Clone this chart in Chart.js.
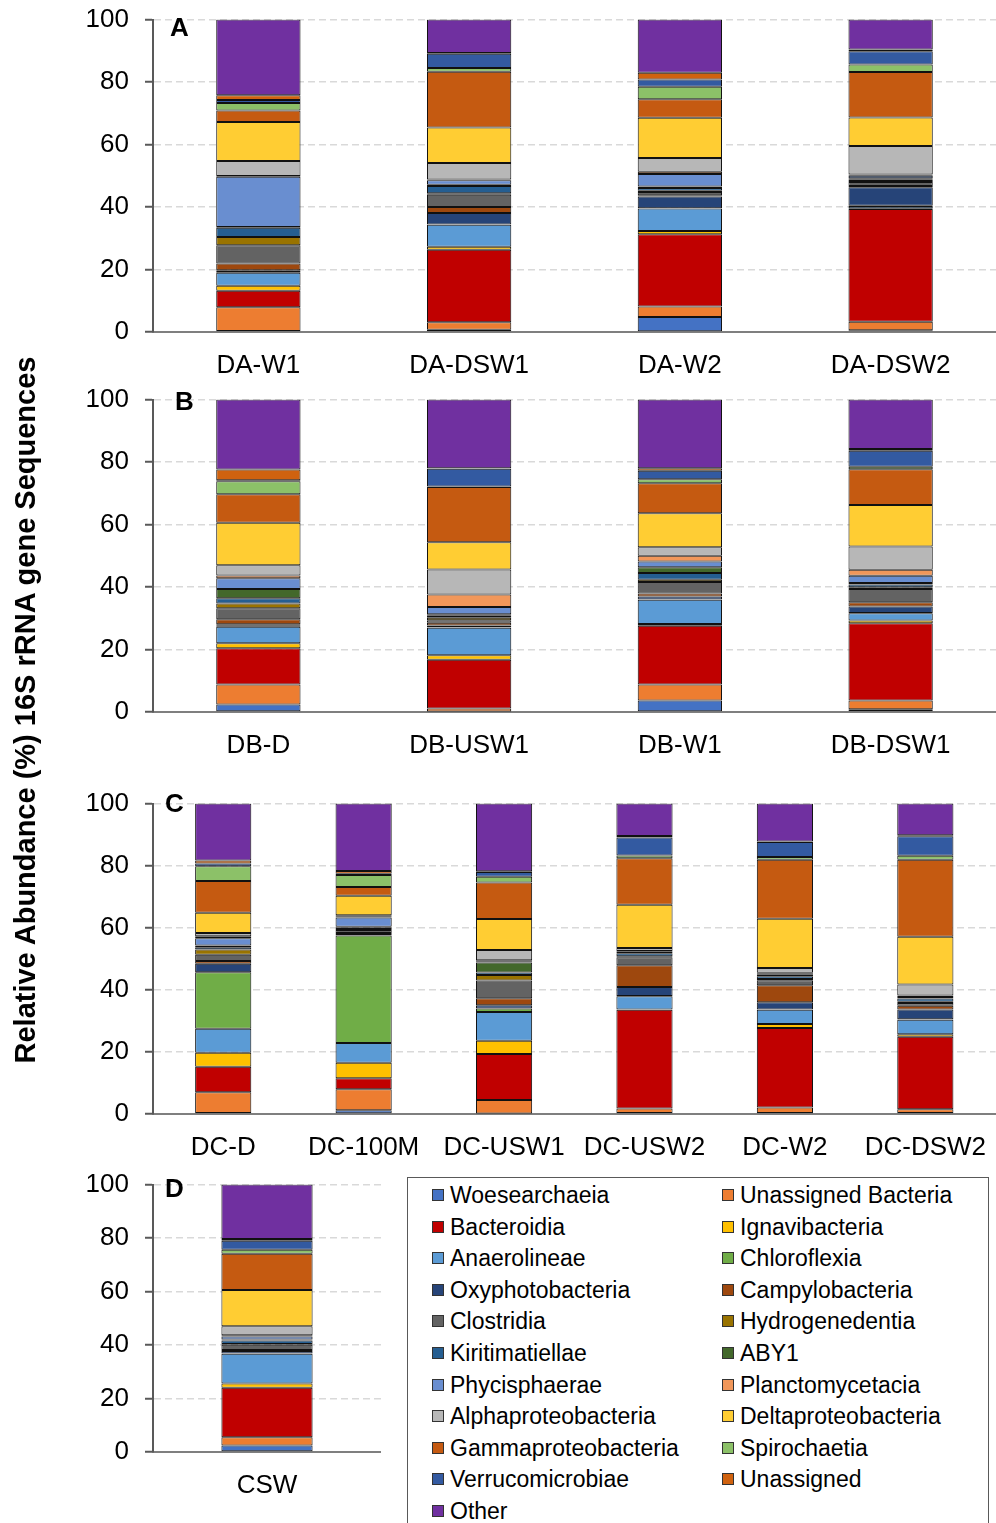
<!DOCTYPE html>
<html>
<head>
<meta charset="utf-8">
<script src="https://cdn.jsdelivr.net/npm/chart.js@4"></script>
<style>
  body { margin: 0; background: #fff; width: 996px; height: 1523px; position: relative; overflow: hidden;
         font-family: "Liberation Sans", Arial, sans-serif; }
  canvas { position: absolute; left: 0; }
  .letter { position: absolute; font-weight: bold; font-size: 26px; line-height: 1; }
  #ytitle { position: absolute; width: 800px; left: -375px; top: 694px; text-align: center;
            font-weight: bold; font-size: 29px; line-height: 32px; transform: rotate(-90deg); }
  #legend { position: absolute; left: 407px; top: 1177px; width: 582px; height: 400px;
            border: 1.5px solid #595959; box-sizing: border-box; }
  .item { position: absolute; font-size: 23px; line-height: 26px; white-space: nowrap; }
  .item span { position: absolute; left: 0; top: 7px; width: 10px; height: 10px; border: 1px solid #333; }
</style>
</head>
<body>
<canvas id="pA" width="996" height="402" style="top:-12px"></canvas>
<canvas id="pB" width="996" height="402" style="top:368px"></canvas>
<canvas id="pC" width="996" height="400" style="top:772px"></canvas>
<canvas id="pD" width="381" height="357" style="top:1153px"></canvas>
<div class="letter" style="left:170px;top:14px">A</div>
<div class="letter" style="left:175px;top:388px">B</div>
<div class="letter" style="left:165px;top:790px">C</div>
<div class="letter" style="left:165px;top:1175px">D</div>
<div id="ytitle">Relative Abundance (%) 16S rRNA gene Sequences</div>
<div id="legend"></div>
<script>
// taxa, bottom of the stack first
const taxa = ["Woesearchaeia", "Unassigned Bacteria", "Bacteroidia", "Ignavibacteria", "Anaerolineae",
  "Chloroflexia", "Oxyphotobacteria", "Campylobacteria", "Clostridia", "Hydrogenedentia",
  "Kiritimatiellae", "ABY1", "Phycisphaerae", "Planctomycetacia", "Alphaproteobacteria",
  "Deltaproteobacteria", "Gammaproteobacteria", "Spirochaetia", "Verrucomicrobiae", "Unassigned", "Other"];
const colors = ["#4472C4", "#ED7D31", "#C00000", "#FFC000", "#5B9BD5",
  "#70AD47", "#264478", "#9E480E", "#636363", "#997300",
  "#255E91", "#43682B", "#698ED0", "#F1975A", "#B7B7B7",
  "#FFCD33", "#C55A11", "#8CC168", "#335AA1", "#D0620F", "#7030A0"];

const yTicks = [0, 20, 40, 60, 80, 100];

// panel A
const labelsA = ["DA-W1", "DA-DSW1", "DA-W2", "DA-DSW2"];
const DA_W1   = [0.3, 7.6, 5.3, 1.6, 4.2, 0.2, 0.6, 2.1, 5.9, 2.6, 3.0, 0.2, 16.1, 0.2, 4.8, 12.5, 3.7, 2.4, 1.0, 1.5, 24.2];
const DA_DSW1 = [0.7, 2.4, 23.2, 1.0, 7.0, 0.1, 3.7, 1.9, 3.9, 0.5, 2.3, 0.4, 1.5, 0.2, 5.3, 11.4, 17.8, 1.2, 4.6, 0.2, 10.7];
const DA_W2   = [4.8, 3.4, 23.1, 1.0, 7.2, 0.1, 3.8, 0.4, 1.0, 0.4, 0.9, 0.5, 4.0, 0.7, 4.4, 12.9, 5.9, 4.0, 2.3, 2.2, 17.0];
const DA_DSW2 = [0.6, 2.7, 36.1, 0.2, 0.7, 0.1, 5.9, 0.4, 1.3, 0.3, 0.6, 0.3, 0.8, 0.4, 9.1, 9.2, 14.5, 2.4, 4.3, 0.5, 9.6];

// panel B
const labelsB = ["DB-D", "DB-USW1", "DB-W1", "DB-DSW1"];
const DB_D    = [2.4, 6.4, 11.6, 1.6, 5.3, 0.3, 0.5, 1.6, 3.5, 1.5, 1.7, 3.0, 3.4, 0.9, 3.3, 13.6, 9.1, 4.2, 0.3, 3.4, 22.4];
const DB_USW1 = [0.2, 0.9, 15.6, 1.5, 8.8, 0.1, 0.6, 0.9, 0.8, 0.8, 0.6, 0.5, 2.3, 4.0, 8.0, 8.7, 17.7, 0.2, 5.7, 0.1, 22.0];
const DB_W1   = [3.7, 5.1, 18.8, 0.6, 7.7, 0.1, 1.0, 0.9, 3.7, 0.7, 2.2, 1.8, 1.9, 1.8, 2.7, 10.9, 9.6, 1.3, 2.7, 0.8, 22.0];
const DB_DSW1 = [0.9, 2.8, 24.7, 0.9, 2.3, 0.1, 2.1, 1.3, 4.3, 0.5, 0.9, 0.5, 2.3, 1.9, 7.5, 13.3, 11.4, 0.8, 5.1, 0.6, 15.8];

// panel C
const labelsC = ["DC-D", "DC-100M", "DC-USW1", "DC-USW2", "DC-W2", "DC-DSW2"];
const DC_D    = [0.3, 6.7, 8.2, 4.5, 7.8, 18.2, 2.7, 0.9, 2.0, 1.7, 0.7, 0.6, 2.3, 0.7, 1.0, 6.5, 10.3, 4.7, 0.9, 1.0, 18.3];
const DC_100M = [1.2, 6.8, 3.5, 5.0, 6.4, 34.6, 0.5, 0.3, 1.0, 0.3, 0.4, 0.3, 3.0, 0.4, 0.3, 6.3, 2.8, 3.9, 0.4, 0.9, 21.7];
const DC_USW1 = [0.2, 4.3, 14.8, 4.3, 9.3, 1.1, 1.0, 2.3, 5.7, 1.8, 0.8, 3.2, 0.4, 0.3, 3.3, 10.0, 11.8, 1.8, 1.6, 0.2, 21.8];
const DC_USW2 = [0.3, 1.5, 31.8, 0.1, 4.2, 0.1, 2.9, 7.0, 2.6, 0.3, 1.0, 0.4, 0.2, 0.1, 1.0, 13.9, 15.0, 0.9, 5.8, 0.5, 10.4];
const DC_W2   = [0.3, 1.8, 25.6, 1.3, 4.6, 0.1, 2.3, 5.5, 1.6, 0.4, 0.9, 0.5, 0.3, 0.3, 1.5, 15.9, 19.0, 0.9, 4.8, 0.2, 12.2];
const DC_DSW2 = [0.3, 1.2, 23.4, 0.8, 4.7, 0.1, 3.2, 1.2, 0.9, 0.4, 1.0, 0.5, 0.3, 0.2, 3.5, 15.4, 24.8, 1.3, 6.3, 0.3, 10.2];

// panel D
const labelsD = ["CSW"];
const CSW     = [2.4, 3.1, 18.5, 1.6, 11.1, 0.1, 1.0, 0.3, 2.0, 0.3, 1.3, 0.4, 1.1, 0.5, 3.3, 13.6, 13.5, 1.5, 3.4, 0.7, 20.3];

Chart.defaults.font.family = "'Liberation Sans', Arial, sans-serif";
Chart.defaults.color = "#000";

function panel(id, labels, samples) {
  return new Chart(document.getElementById(id), {
    type: "bar",
    data: {
      labels: labels,
      datasets: taxa.map((name, i) => ({
        label: name,
        data: samples.map(s => s[i]),
        backgroundColor: colors[i],
        borderColor: "#111",
        borderWidth: 1,
        borderSkipped: false,
        barPercentage: 0.4,
        categoryPercentage: 1
      }))
    },
    options: {
      responsive: false,
      animation: false,
      layout: { padding: { top: 19, left: 0, right: 0, bottom: 0 } },
      plugins: { legend: { display: false }, tooltip: { enabled: false } },
      scales: {
        x: {
          stacked: true,
          grid: { display: false },
          border: { color: "#7f7f7f", width: 2 },
          ticks: { font: { size: 26 }, padding: 10 },
          afterFit: s => { s.height = 58; }
        },
        y: {
          stacked: true,
          min: 0,
          max: 100,
          afterBuildTicks: s => { s.ticks = yTicks.map(v => ({ value: v })); },
          ticks: { font: { size: 26 }, padding: 16 },
          grid: { color: "#d9d9d9", lineWidth: 1.5, tickLength: 8, tickColor: "#595959", tickWidth: 2 },
          border: { color: "#595959", width: 2, dash: [7, 4] },
          afterFit: s => { s.width = 153; }
        }
      }
    }
  });
}

panel("pA", labelsA, [DA_W1, DA_DSW1, DA_W2, DA_DSW2]);
panel("pB", labelsB, [DB_D, DB_USW1, DB_W1, DB_DSW1]);
panel("pC", labelsC, [DC_D, DC_100M, DC_USW1, DC_USW2, DC_W2, DC_DSW2]);
panel("pD", labelsD, [CSW]);

// legend box, two columns, row by row
const legend = document.getElementById("legend");
taxa.forEach((name, i) => {
  const row = Math.floor(i / 2), col = i % 2;
  const d = document.createElement("div");
  d.className = "item";
  d.style.left = (col ? 314 : 24) + "px";
  d.style.top = (4 + row * 31.6) + "px";
  d.style.paddingLeft = "18px";
  d.innerHTML = '<span style="background:' + colors[i] + '"></span>' + name;
  legend.appendChild(d);
});
</script>
</body>
</html>
